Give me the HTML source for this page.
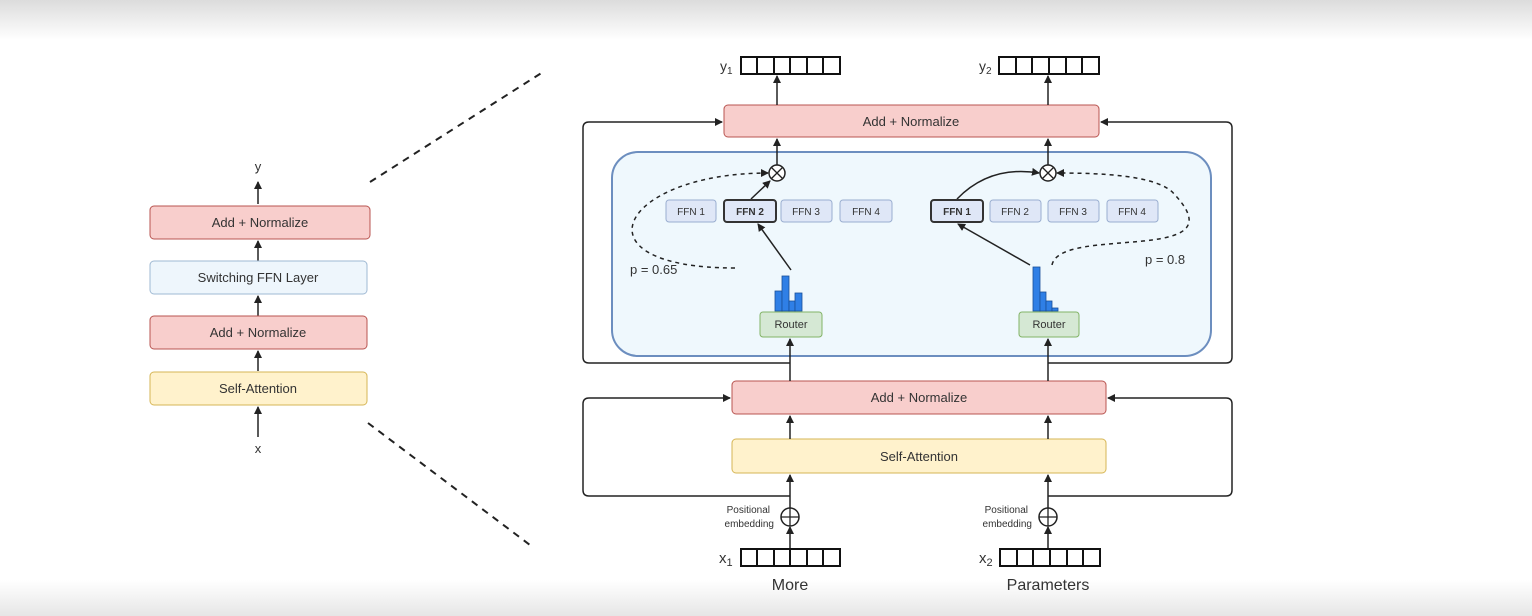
<!DOCTYPE html>
<html><head><meta charset="utf-8"><style>
html,body{margin:0;padding:0;width:1532px;height:616px;overflow:hidden;background:#fff}
svg{display:block}
text{font-family:"Liberation Sans",sans-serif;fill:#333}
</style></head><body>
<svg width="1532" height="616" viewBox="0 0 1532 616" xmlns="http://www.w3.org/2000/svg">
<defs>
<linearGradient id="gt" x1="0" y1="0" x2="0" y2="1"><stop offset="0" stop-color="#dcdcdc"/><stop offset="1" stop-color="#fff"/></linearGradient>
<linearGradient id="gb" x1="0" y1="0" x2="0" y2="1"><stop offset="0" stop-color="#fff"/><stop offset="1" stop-color="#e6e6e6"/></linearGradient>
<marker id="a" markerWidth="8" markerHeight="8" refX="7" refY="4" orient="auto" markerUnits="userSpaceOnUse"><path d="M0,0 L8,4 L0,8 z" fill="#222"/></marker>
</defs>
<rect x="0" y="0" width="1532" height="40" fill="url(#gt)"/>
<rect x="0" y="580" width="1532" height="36" fill="url(#gb)"/>

<!-- Left stack -->
<g stroke="#222" stroke-width="1.5" fill="none" marker-end="url(#a)">
<line x1="258" y1="437" x2="258" y2="407"/>
<line x1="258" y1="371" x2="258" y2="351"/>
<line x1="258" y1="316" x2="258" y2="296"/>
<line x1="258" y1="261" x2="258" y2="241"/>
<line x1="258" y1="204" x2="258" y2="182"/>
</g>
<text x="258" y="171" font-size="13" text-anchor="middle">y</text>
<text x="258" y="453" font-size="13" text-anchor="middle">x</text>
<rect x="150" y="206" width="220" height="33" rx="4" fill="#f8cecc" stroke="#b85450"/>
<text x="260" y="227" font-size="13" text-anchor="middle">Add + Normalize</text>
<rect x="150" y="261" width="217" height="33" rx="4" fill="#eef6fc" stroke="#9fb9d3"/>
<text x="258" y="282" font-size="13" text-anchor="middle">Switching FFN Layer</text>
<rect x="150" y="316" width="217" height="33" rx="4" fill="#f8cecc" stroke="#b85450"/>
<text x="258" y="337" font-size="13" text-anchor="middle">Add + Normalize</text>
<rect x="150" y="372" width="217" height="33" rx="4" fill="#fff2cc" stroke="#d6b656"/>
<text x="258" y="393" font-size="13" text-anchor="middle">Self-Attention</text>

<line x1="370" y1="182" x2="543" y2="72" stroke="#222" stroke-width="2" stroke-dasharray="7,6"/>
<line x1="368" y1="423" x2="530" y2="545" stroke="#222" stroke-width="2" stroke-dasharray="7,6"/>

<!-- Right: outer loops -->
<g stroke="#222" stroke-width="1.5" fill="none">
<path d="M790,363 L589,363 Q583,363 583,357 L583,128 Q583,122 589,122 L722,122" marker-end="url(#a)"/>
<path d="M1048,363 L1226,363 Q1232,363 1232,357 L1232,128 Q1232,122 1226,122 L1101,122" marker-end="url(#a)"/>
<path d="M790,496 L589,496 Q583,496 583,490 L583,404 Q583,398 589,398 L730,398" marker-end="url(#a)"/>
<path d="M1048,496 L1226,496 Q1232,496 1232,490 L1232,404 Q1232,398 1226,398 L1108,398" marker-end="url(#a)"/>
</g>

<rect x="612" y="152" width="599" height="204" rx="26" fill="#eff8fd" stroke="#6c8ebf" stroke-width="2"/>

<rect x="724" y="105" width="375" height="32" rx="4" fill="#f8cecc" stroke="#b85450"/>
<text x="911" y="126" font-size="13" text-anchor="middle">Add + Normalize</text>
<rect x="732" y="381" width="374" height="33" rx="4" fill="#f8cecc" stroke="#b85450"/>
<text x="919" y="402" font-size="13" text-anchor="middle">Add + Normalize</text>
<rect x="732" y="439" width="374" height="34" rx="4" fill="#fff2cc" stroke="#d6b656"/>
<text x="919" y="461" font-size="13" text-anchor="middle">Self-Attention</text>

<!-- vertical arrows -->
<g stroke="#222" stroke-width="1.5" fill="none" marker-end="url(#a)">
<line x1="777" y1="105" x2="777" y2="76"/>
<line x1="1048" y1="105" x2="1048" y2="76"/>
<line x1="777" y1="165" x2="777" y2="139"/>
<line x1="1048" y1="165" x2="1048" y2="139"/>
<line x1="790" y1="381" x2="790" y2="339"/>
<line x1="1048" y1="381" x2="1048" y2="339"/>
<line x1="790" y1="439" x2="790" y2="416"/>
<line x1="1048" y1="439" x2="1048" y2="416"/>
<line x1="790" y1="508" x2="790" y2="475"/>
<line x1="1048" y1="508" x2="1048" y2="475"/>
<line x1="790" y1="557" x2="790" y2="527"/>
<line x1="1048" y1="557" x2="1048" y2="527"/>
<path d="M791,270 L758,224"/>
<path d="M751,199 L770,181"/>
<path d="M1030,265 L958,224"/>
<path d="M957,199 Q990,165 1039,173"/>
<path d="M735,268 C570,268 620,173 768,173" stroke-dasharray="4,4"/>
<path d="M1052,265 C1060,225 1240,265 1175,195 C1160,175 1100,173 1057,173" stroke-dasharray="4,4"/>
</g>
<!-- otimes -->
<g stroke="#222" stroke-width="1.5" fill="#fff">
<circle cx="777" cy="173" r="8"/><circle cx="1048" cy="173" r="8"/>
<circle cx="790" cy="517" r="9"/><circle cx="1048" cy="517" r="9"/>
</g>
<g stroke="#222" stroke-width="1.3">
<path d="M771,167 L783,179 M783,167 L771,179"/><path d="M1042,167 L1054,179 M1054,167 L1042,179"/>
<path d="M781,517 L799,517 M790,508 L790,526"/><path d="M1039,517 L1057,517 M1048,508 L1048,526"/>
</g>

<!-- FFN boxes -->
<g font-size="10" text-anchor="middle">
<rect x="666" y="200" width="50" height="22" rx="3" fill="#dfe7f7" stroke="#9aaed0"/><text x="691" y="215" fill="#667">FFN 1</text>
<rect x="724" y="200" width="52" height="22" rx="3" fill="#dfe7f7" stroke="#333" stroke-width="2"/><text x="750" y="215" font-weight="bold">FFN 2</text>
<rect x="781" y="200" width="51" height="22" rx="3" fill="#dfe7f7" stroke="#9aaed0"/><text x="806" y="215" fill="#667">FFN 3</text>
<rect x="840" y="200" width="52" height="22" rx="3" fill="#dfe7f7" stroke="#9aaed0"/><text x="866" y="215" fill="#667">FFN 4</text>
<rect x="931" y="200" width="52" height="22" rx="3" fill="#dfe7f7" stroke="#333" stroke-width="2"/><text x="957" y="215" font-weight="bold">FFN 1</text>
<rect x="990" y="200" width="51" height="22" rx="3" fill="#dfe7f7" stroke="#9aaed0"/><text x="1015" y="215" fill="#667">FFN 2</text>
<rect x="1048" y="200" width="51" height="22" rx="3" fill="#dfe7f7" stroke="#9aaed0"/><text x="1073" y="215" fill="#667">FFN 3</text>
<rect x="1107" y="200" width="51" height="22" rx="3" fill="#dfe7f7" stroke="#9aaed0"/><text x="1132" y="215" fill="#667">FFN 4</text>
</g>
<text x="630" y="274" font-size="13">p = 0.65</text>
<text x="1145" y="264" font-size="13">p = 0.8</text>

<!-- histograms -->
<g fill="#2f7fe6" stroke="#1a4f99" stroke-width="0.8">
<rect x="775" y="291" width="7" height="20"/><rect x="782" y="276" width="7" height="35"/><rect x="789" y="301" width="6" height="10"/><rect x="795" y="293" width="7" height="18"/>
<rect x="1033" y="267" width="7" height="44"/><rect x="1040" y="292" width="6" height="19"/><rect x="1046" y="301" width="6" height="10"/><rect x="1052" y="308" width="6" height="3"/>
</g>
<rect x="760" y="312" width="62" height="25" rx="3" fill="#d5e8d4" stroke="#82b366"/>
<text x="791" y="328" font-size="11" text-anchor="middle">Router</text>
<rect x="1019" y="312" width="60" height="25" rx="3" fill="#d5e8d4" stroke="#82b366"/>
<text x="1049" y="328" font-size="11" text-anchor="middle">Router</text>

<!-- vectors -->
<g stroke="#111" stroke-width="2" fill="#fff">
<rect x="741" y="57" width="99" height="17"/><rect x="999" y="57" width="100" height="17"/>
<rect x="741" y="549" width="99" height="17"/><rect x="1000" y="549" width="100" height="17"/>
</g>
<g stroke="#111" stroke-width="2">
<path d="M757,57v17M774,57v17M790,57v17M807,57v17M823,57v17"/>
<path d="M1016,57v17M1032,57v17M1049,57v17M1066,57v17M1082,57v17"/>
<path d="M757,549v17M774,549v17M790,549v17M807,549v17M823,549v17"/>
<path d="M1017,549v17M1033,549v17M1050,549v17M1067,549v17M1083,549v17"/>
</g>
<text x="720" y="71" font-size="14">y<tspan font-size="10" dy="3">1</tspan></text>
<text x="979" y="71" font-size="14">y<tspan font-size="10" dy="3">2</tspan></text>
<text x="719" y="563" font-size="15">x<tspan font-size="11" dy="3">1</tspan></text>
<text x="979" y="563" font-size="15">x<tspan font-size="11" dy="3">2</tspan></text>
<text x="790" y="590" font-size="16" text-anchor="middle">More</text>
<text x="1048" y="590" font-size="16" text-anchor="middle">Parameters</text>
<g font-size="10" text-anchor="end" fill="#555">
<text x="770" y="513">Positional</text><text x="774" y="527">embedding</text>
<text x="1028" y="513">Positional</text><text x="1032" y="527">embedding</text>
</g>
</svg>
</body></html>
